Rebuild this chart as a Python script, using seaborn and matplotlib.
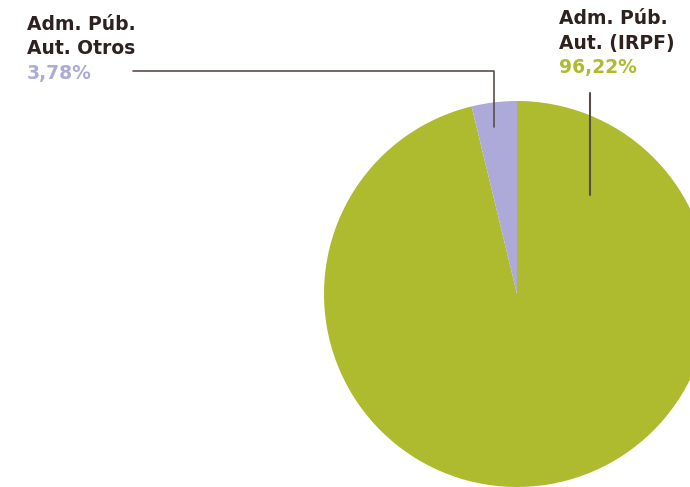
import matplotlib
matplotlib.use("Agg")
import matplotlib.pyplot as plt
import seaborn as sns

# Data
categories = ["Adm. Púb.\nAut. Otros", "Adm. Púb.\nAut. (IRPF)"]
shares = [3.78, 96.22]
colors = ["#ADA9D9", "#AEBB2E"]

TEXT = "#2E2220"
LINE = "#5A4E4C"
W, H = 690, 487

sns.set_theme(style="white")
plt.rcParams['font.family'] = ['DejaVu Sans']

fig = plt.figure(figsize=(W / 100, H / 100), dpi=100)
ax = fig.add_axes([0, 0, 1, 1])

# pie drawn in pixel-like coordinates (y measured from bottom)
order = [1, 0]
ax.pie([shares[i] for i in order], colors=[colors[i] for i in order],
       startangle=90, counterclock=False, radius=193, center=(517, H - 294),
       wedgeprops=dict(linewidth=0))

ax.set_xlim(0, W)
ax.set_ylim(0, H)
ax.set_aspect('equal')
ax.axis('off')


def fmt(v):
    return f"{v:.2f}".replace('.', ',') + "%"


# leader lines
ax.plot([133, 494, 494], [H - 71, H - 71, H - 127], color=LINE, lw=1.2)
ax.plot([590, 590], [H - 93, H - 195], color=LINE, lw=1.5)

# labels, one line at a time
label_pos = [(27, 30), (559, 24)]
step = 24.5
for (x, yb), cat, v, c in zip(label_pos, categories, shares, colors):
    lines = cat.split("\n") + [fmt(v)]
    for k, line in enumerate(lines):
        ax.text(x, H - yb - k * step, line, color=c if k == len(lines) - 1 else TEXT,
                fontsize=13.5, fontweight='bold', ha='left', va='baseline')

fig.savefig("out.png", dpi=100)
